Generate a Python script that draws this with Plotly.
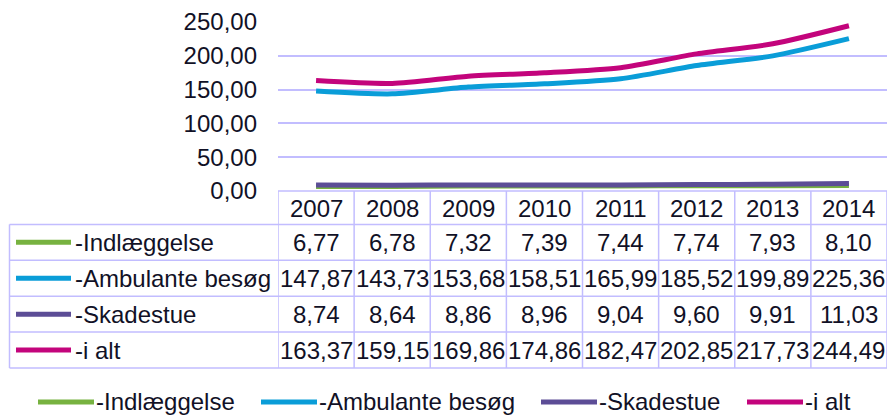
import plotly.graph_objects as go

years = ["2007", "2008", "2009", "2010", "2011", "2012", "2013", "2014"]
series_names = ["-Indlæggelse", "-Ambulante besøg", "-Skadestue", "-i alt"]
indlaeggelse = [6.77, 6.78, 7.32, 7.39, 7.44, 7.74, 7.93, 8.10]
ambulante = [147.87, 143.73, 153.68, 158.51, 165.99, 185.52, 199.89, 225.36]
skadestue = [8.74, 8.64, 8.86, 8.96, 9.04, 9.60, 9.91, 11.03]
i_alt = [163.37, 159.15, 169.86, 174.86, 182.47, 202.85, 217.73, 244.49]
y_ticks = [0, 50, 100, 150, 200, 250]

series_values = [indlaeggelse, ambulante, skadestue, i_alt]
colors = ["#77B240", "#0A9DD8", "#5C4D96", "#C3047C"]

W, H = 889, 416
L, R, T, B = 278, 887, 22, 191.5
FONT = "Liberation Sans, Arial, sans-serif"
TXT = "#111126"
GRID = "#C2BDFF"
FS = 24


def px_x(p):
    return (p - L) / (R - L)


def px_y(p):
    return (B - p) / (B - T)


fig = go.Figure()
for name, vals, col in zip(series_names, series_values, colors):
    fig.add_trace(go.Scatter(
        x=list(range(len(years))), y=vals, name=name, mode="lines",
        line=dict(color=col, width=5, shape="spline", smoothing=0.7),
        showlegend=False,
    ))


def fmt(v):
    return f"{v:.2f}".replace(".", ",")


shapes = []
annotations = []
line_style = dict(color=GRID, width=1.5)

header_top, header_bot = 191.5, 225
row_h = 36
row_bounds = [header_bot + i * row_h for i in range(len(series_names) + 1)]
table_left = 9.5

shapes.append(dict(type="line", xref="paper", yref="paper",
                   x0=0, x1=1, y0=px_y(header_top), y1=px_y(header_top), line=line_style))
for yb in row_bounds:
    shapes.append(dict(type="line", xref="paper", yref="paper",
                       x0=px_x(table_left), x1=1, y0=px_y(yb), y1=px_y(yb), line=line_style))
for i in range(len(years) + 1):
    shapes.append(dict(type="line", xref="x", yref="paper",
                       x0=i - 0.5, x1=i - 0.5, y0=px_y(header_top), y1=px_y(row_bounds[-1]),
                       line=line_style))
shapes.append(dict(type="line", xref="paper", yref="paper",
                   x0=px_x(table_left), x1=px_x(table_left),
                   y0=px_y(row_bounds[0]), y1=px_y(row_bounds[-1]), line=line_style))

for i, yr in enumerate(years):
    annotations.append(dict(x=i, xref="x", y=px_y((header_top + header_bot) / 2 + 0.5), yref="paper",
                            text=yr, showarrow=False, xanchor="center", yanchor="middle",
                            font=dict(family=FONT, size=FS, color=TXT)))

for r, (name, vals, col) in enumerate(zip(series_names, series_values, colors)):
    yc = (row_bounds[r] + row_bounds[r + 1]) / 2
    shapes.append(dict(type="line", xref="paper", yref="paper",
                       x0=px_x(16), x1=px_x(71), y0=px_y(yc), y1=px_y(yc),
                       line=dict(color=col, width=5)))
    annotations.append(dict(x=px_x(73), xref="paper", y=px_y(yc), yref="paper",
                            text=name, showarrow=False, xanchor="left", yanchor="middle",
                            font=dict(family=FONT, size=FS, color=TXT)))
    for i, v in enumerate(vals):
        annotations.append(dict(x=i, xref="x", y=px_y(yc), yref="paper",
                                text=fmt(v), showarrow=False, xanchor="center", yanchor="middle",
                                font=dict(family=FONT, size=FS, color=TXT)))

# bottom legend
legend_starts = [38, 261, 541, 747]
legend_y = 403
for name, col, x0 in zip(series_names, colors, legend_starts):
    shapes.append(dict(type="line", xref="paper", yref="paper",
                       x0=px_x(x0), x1=px_x(x0 + 56), y0=px_y(legend_y), y1=px_y(legend_y),
                       line=dict(color=col, width=5)))
    annotations.append(dict(x=px_x(x0 + 56), xref="paper", y=px_y(legend_y), yref="paper",
                            text=name, showarrow=False, xanchor="left", yanchor="middle",
                            font=dict(family=FONT, size=FS, color=TXT)))

fig.update_layout(
    width=W, height=H,
    margin=dict(l=L, r=W - R, t=T, b=H - B, autoexpand=False),
    paper_bgcolor="white", plot_bgcolor="white",
    separators=",.",
    font=dict(family=FONT, size=FS, color=TXT),
    xaxis=dict(range=[-0.5, len(years) - 0.5], showticklabels=False, showgrid=False,
               zeroline=False, showline=False, ticks=""),
    yaxis=dict(range=[0, 250], tickvals=y_ticks, tickformat=".2f", showgrid=True,
               gridcolor=GRID, gridwidth=1.5, zeroline=False, showline=False,
               ticks="", ticklabelstandoff=20,
               tickfont=dict(family=FONT, size=FS, color=TXT)),
    showlegend=False,
    shapes=shapes,
    annotations=annotations,
)

fig.write_html("out.html", config={"displayModeBar": False},
               post_script="document.body.style.margin='0';")
